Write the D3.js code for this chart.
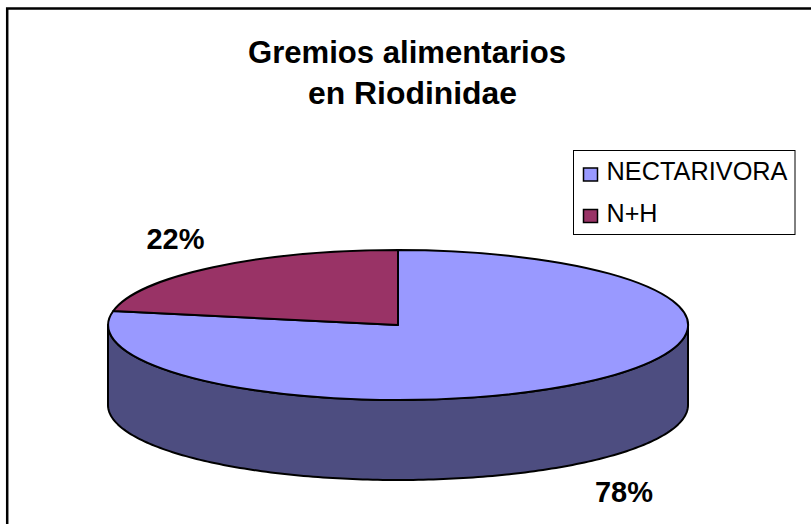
<!DOCTYPE html>
<html><head><meta charset="utf-8">
<script src="https://cdn.jsdelivr.net/npm/d3@7"></script>
<style>html,body{margin:0;padding:0;background:#fff;overflow:hidden}svg{display:block}text{font-family:"Liberation Sans",Arial,sans-serif;fill:#000}</style>
</head><body><svg id="c" width="811" height="524"></svg>
<script>
const categories = ["NECTARIVORA", "N+H"];
const values = [78, 22];
const percentLabels = ["78%", "22%"];
const topColors = ["#9999ff", "#993366"];
const sideColors = ["#4d4d80", "#4d1a33"];
const titleLines = ["Gremios alimentarios", "en Riodinidae"];

const svg = d3.select("#c");
const cx = 398, cy = 325, rx = 290, ry = 75, depth = 80;

// frame runs off the right and bottom edges of the picture
svg.append("rect").attr("x", 7.2).attr("y", 8.5).attr("width", 830).attr("height", 560)
  .attr("fill", "#fff").attr("stroke", "#000").attr("stroke-width", 2.5);

const titleX = [248, 308], titleY = [62.5, 104], titleW = [318, 209];
svg.selectAll("text.t").data(titleLines).join("text").attr("class", "t")
  .attr("x", (d, i) => titleX[i]).attr("y", (d, i) => titleY[i])
  .attr("font-size", 31).attr("font-weight", "bold")
  .attr("textLength", (d, i) => titleW[i]).attr("lengthAdjust", "spacingAndGlyphs")
  .text(d => d);

const arcs = d3.pie().sort(null).value(d => d)(values);
const ex = d3.scaleLinear().domain([-1, 1]).range([cx - rx, cx + rx]);
const ey = d3.scaleLinear().domain([-1, 1]).range([cy - ry, cy + ry]);
const pt = (a, dy = 0) => [ex(Math.sin(a)), ey(-Math.cos(a)) + dy];

// side wall: visible front half of the first slice's rim
const front = d3.range(Math.PI / 2, Math.PI * 1.5 + 1e-6, Math.PI / 180);
const wall = front.map(a => pt(a)).concat(front.slice().reverse().map(a => pt(a, depth)));
svg.append("path").attr("d", d3.line()(wall) + "Z")
  .attr("fill", sideColors[0]).attr("stroke", "#000").attr("stroke-width", 2).attr("stroke-linejoin", "round");

// top faces
const unitArc = d3.arc().innerRadius(0).outerRadius(1);
svg.append("g").attr("transform", `translate(${cx},${cy}) scale(${rx},${ry})`)
  .selectAll("path").data(arcs).join("path")
  .attr("d", unitArc)
  .attr("fill", (d, i) => topColors[i])
  .attr("stroke", "#000").attr("stroke-width", 2)
  .attr("vector-effect", "non-scaling-stroke").attr("stroke-linejoin", "round");

// percent labels
const labelPos = [[624, 502], [175.5, 249]];
svg.selectAll("text.p").data(percentLabels).join("text").attr("class", "p")
  .attr("x", (d, i) => labelPos[i][0]).attr("y", (d, i) => labelPos[i][1])
  .attr("text-anchor", "middle").attr("font-size", 30).attr("font-weight", "bold")
  .attr("textLength", 58).attr("lengthAdjust", "spacingAndGlyphs")
  .text(d => d);

// legend
svg.append("rect").attr("x", 573.5).attr("y", 150.5).attr("width", 221.5).attr("height", 84)
  .attr("fill", "#fff").attr("stroke", "#000").attr("stroke-width", 1);
const lg = svg.selectAll("g.l").data(categories).join("g").attr("class", "l")
  .attr("transform", (d, i) => `translate(0,${i * 41.5})`);
lg.append("rect").attr("x", 583.5).attr("y", 168).attr("width", 14).attr("height", 13)
  .attr("fill", (d, i) => topColors[i]).attr("stroke", "#000").attr("stroke-width", 1.5);
lg.append("text").attr("x", 606.5).attr("y", 180).attr("font-size", 26)
  .attr("textLength", (d, i) => i ? 51 : 181).attr("lengthAdjust", "spacingAndGlyphs")
  .text(d => d);
</script></body></html>
